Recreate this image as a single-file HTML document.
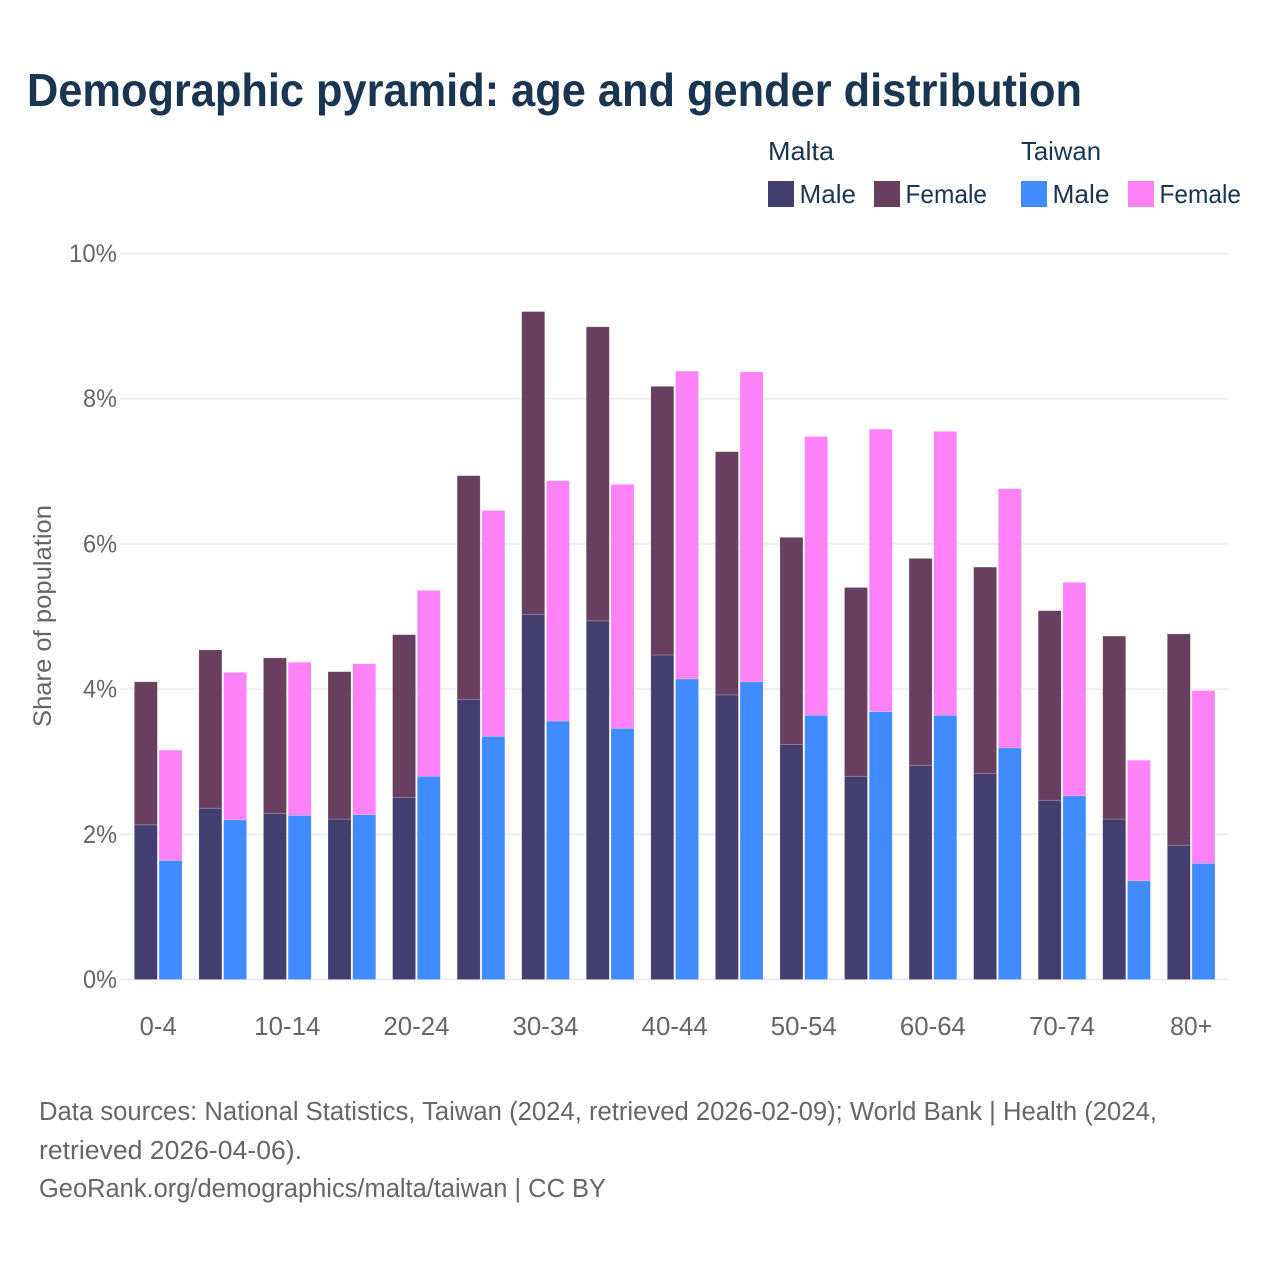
<!DOCTYPE html>
<html lang="en">
<head>
<meta charset="utf-8">
<title>Demographic pyramid: age and gender distribution</title>
<style>
html,body{margin:0;padding:0;background:#fff;}
svg{display:block;font-family:"Liberation Sans",sans-serif;}
</style>
</head>
<body>
<svg id="chart" xmlns="http://www.w3.org/2000/svg" width="1280" height="1280" viewBox="0 0 1280 1280">
  <rect x="0" y="0" width="1280" height="1280" fill="#ffffff"/>
  <text x="27" y="106" font-size="46" font-weight="700" fill="#1a3552" textLength="1055" lengthAdjust="spacingAndGlyphs">Demographic pyramid: age and gender distribution</text>

  <g font-size="26" fill="#1a3552">
    <text x="768" y="160" textLength="66" lengthAdjust="spacingAndGlyphs">Malta</text>
    <text x="1021" y="160" textLength="80" lengthAdjust="spacingAndGlyphs">Taiwan</text>
    <g>
      <rect x="768" y="181" width="26" height="26" fill="#433e6f"/>
      <text x="799.5" y="203" textLength="56.5" lengthAdjust="spacingAndGlyphs">Male</text>
    </g>
    <g>
      <rect x="874" y="181" width="26" height="26" fill="#683f5f"/>
      <text x="905.5" y="203" textLength="81.5" lengthAdjust="spacingAndGlyphs">Female</text>
    </g>
    <g>
      <rect x="1021" y="181" width="26" height="26" fill="#3f8bff"/>
      <text x="1052.5" y="203" textLength="57" lengthAdjust="spacingAndGlyphs">Male</text>
    </g>
    <g>
      <rect x="1128" y="181" width="26" height="26" fill="#ff83f7"/>
      <text x="1159.5" y="203" textLength="81.5" lengthAdjust="spacingAndGlyphs">Female</text>
    </g>
  </g>

  <g id="grid"></g>
  <g id="yticks"></g>
  <g id="bars"></g>
  <g id="xticks"></g>

  <text transform="translate(51,616) rotate(-90)" text-anchor="middle" font-size="25" fill="#666666" textLength="222" lengthAdjust="spacingAndGlyphs">Share of population</text>

  <g font-size="25.5" fill="#666666">
    <text x="39" y="1120" textLength="1118" lengthAdjust="spacingAndGlyphs">Data sources: National Statistics, Taiwan (2024, retrieved 2026-02-09); World Bank | Health (2024,</text>
    <text x="39" y="1159" textLength="263" lengthAdjust="spacingAndGlyphs">retrieved 2026-04-06).</text>
    <text x="39" y="1197" textLength="567" lengthAdjust="spacingAndGlyphs">GeoRank.org/demographics/malta/taiwan | CC BY</text>
  </g>
</svg>
<script>
const categories = ["0-4","5-9","10-14","15-19","20-24","25-29","30-34","35-39","40-44","45-49","50-54","55-59","60-64","65-69","70-74","75-79","80+"];
const maltaMale = [2.13,2.36,2.29,2.21,2.51,3.86,5.03,4.94,4.47,3.92,3.24,2.80,2.95,2.84,2.47,2.21,1.85];
const maltaFemale = [1.97,2.18,2.14,2.03,2.24,3.08,4.17,4.05,3.70,3.35,2.85,2.60,2.85,2.84,2.61,2.52,2.91];
const taiwanMale = [1.64,2.20,2.26,2.27,2.80,3.35,3.56,3.46,4.14,4.10,3.64,3.69,3.64,3.19,2.53,1.36,1.60];
const taiwanFemale = [1.52,2.03,2.11,2.08,2.56,3.11,3.31,3.36,4.24,4.27,3.84,3.89,3.91,3.57,2.94,1.66,2.38];
const yTicks = [0,2,4,6,8,10];
const xTickLabels = ["0-4","10-14","20-24","30-34","40-44","50-54","60-64","70-74","80+"];

const NS = "http://www.w3.org/2000/svg";
const yScale = v => 979.5 - v * 72.6;
const band = 64.56;
const xCenter = i => 158.2 + i * band;
const barW = 23;
const innerGap = 1.7;

function make(tag, parent, attrs, text) {
  const el = document.createElementNS(NS, tag);
  for (const k in attrs) el.setAttribute(k, attrs[k]);
  if (text !== undefined) el.textContent = text;
  parent.appendChild(el);
  return el;
}

const gridG = document.getElementById("grid");
const yG = document.getElementById("yticks");
yTicks.forEach(t => {
  const line = make("line", gridG, {x1:120, x2:1228, y1:yScale(t), y2:yScale(t), stroke: t === 0 ? "#e6e6ee" : "#ececec", "stroke-width":1.5});
  
  
  const label = t + "%";
  const lab = make("text", yG, {x:117, y:yScale(t)+8.5, "text-anchor":"end", "font-size":25, fill:"#666666", textLength: label.length === 3 ? 48 : 34, lengthAdjust:"spacingAndGlyphs"}, label);
  
  
});

const barsG = document.getElementById("bars");
function drawBar(x, base, value, fill) {
  const top = yScale(base + value);
  const r = make("rect", barsG, {x:x, y:top, width:barW, height:yScale(base)-top, fill:fill, stroke:"#ffffff", "stroke-opacity":0.3, "stroke-width":0.6});
  
  
}
categories.forEach((c, i) => {
  const mx = xCenter(i) - innerGap/2 - barW;
  const tx = xCenter(i) + innerGap/2;
  drawBar(mx, 0, maltaMale[i], "#433e6f");
  drawBar(mx, maltaMale[i], maltaFemale[i], "#683f5f");
  drawBar(tx, 0, taiwanMale[i], "#3f8bff");
  drawBar(tx, taiwanMale[i], taiwanFemale[i], "#ff83f7");
});

const xG = document.getElementById("xticks");
xTickLabels.forEach(lbl => {
  const i = categories.indexOf(lbl);
  const w = lbl === "0-4" ? 37 : lbl === "80+" ? 42 : 66;
  const t = make("text", xG, {x:xCenter(i), y:1035, "text-anchor":"middle", "font-size":25.5, fill:"#666666", textLength:w, lengthAdjust:"spacingAndGlyphs"}, lbl);
  
  
});
</script>
</body>
</html>
